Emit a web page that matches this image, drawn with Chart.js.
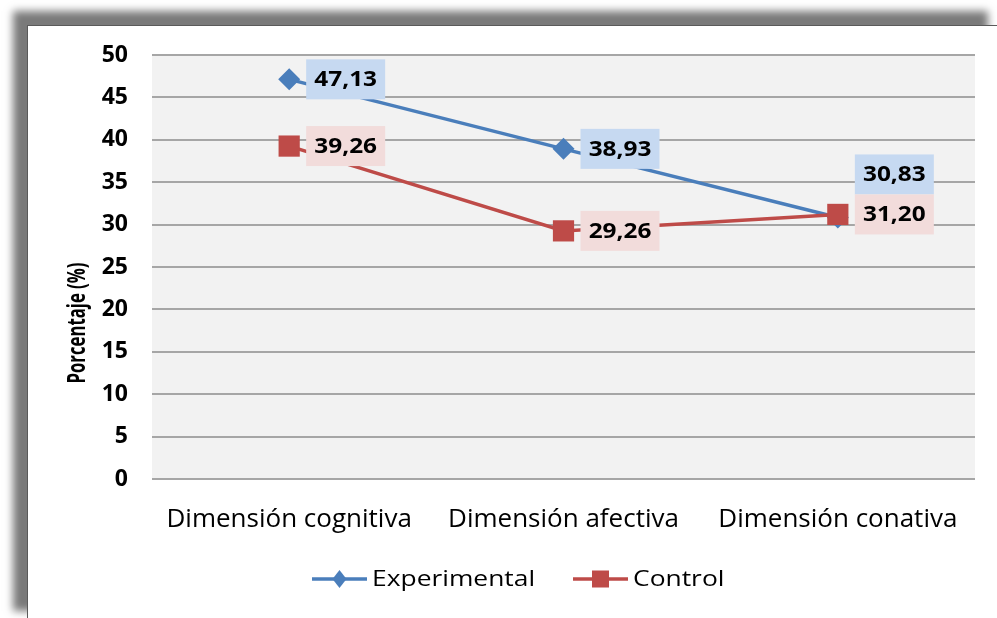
<!DOCTYPE html>
<html>
<head>
<meta charset="utf-8">
<script src="https://cdn.jsdelivr.net/npm/chart.js@4.4.1/dist/chart.umd.min.js"></script>
<style>
    body { margin: 0; background: #fff; width: 997px; height: 618px; overflow: hidden; position: relative; }
    #panel { position: absolute; left: 27px; top: 25px; width: 974px; height: 599px; background: #fff;
             border-left: 1px solid #5a5a5a; border-top: 1px solid #5a5a5a; box-shadow: -14px -14px 8px #7a7a7a; }
    #wrap { position: absolute; left: 0; top: 0; width: 997px; height: 618px; }
</style>
</head>
<body>
<div id="panel"></div>
<div id="wrap"><canvas id="chart" width="997" height="618"></canvas></div>
<script>
// data
var categories = ['Dimensión cognitiva', 'Dimensión afectiva', 'Dimensión conativa'];
var experimental = [47.13, 38.93, 30.83];
var control = [39.26, 29.26, 31.20];
var seriesNames = ['Experimental', 'Control'];
var yMin = 0, yMax = 50, yStep = 5;

var FONT = '"Open Sans", Lato, sans-serif';
var BLUE = '#4a7ebb', RED = '#be4b48';
var LABEL_BG = ['#c6d9f1', '#f2dcdb'];

function fmt(v) { return v.toFixed(2).replace('.', ','); }

// the source picture is stretched sideways, so custom text gets a horizontal scale
function stretchText(ctx, text, x, y, sx) {
    ctx.save();
    ctx.translate(x, y);
    ctx.scale(sx, 1);
    ctx.fillText(text, 0, 0);
    ctx.restore();
}

var decorations = {
    id: 'decorations',
    beforeDraw: function (chart) {
        var a = chart.chartArea, ctx = chart.ctx;
        ctx.save();
        ctx.fillStyle = '#f2f2f2';
        ctx.fillRect(a.left, a.top, a.right - a.left, a.bottom - a.top);
        ctx.restore();
    },
    afterDatasetsDraw: function (chart) {
        var ctx = chart.ctx;
        var boxW = 79, boxH = 40, gap = 17;
        ctx.save();
        ctx.font = 'bold 21px ' + FONT;
        ctx.textAlign = 'center';
        ctx.textBaseline = 'middle';
        for (var i = 0; i < categories.length; i++) {
            var boxes = chart.data.datasets.map(function (ds, d) {
                var pt = chart.getDatasetMeta(d).data[i];
                return { x: pt.x + gap, y: pt.y - boxH / 2, v: ds.data[i], d: d };
            });
            // overlapping labels get stacked, first series on top
            if (Math.abs(boxes[0].y - boxes[1].y) < boxH) {
                boxes[0].y = boxes[1].y - boxH;
            }
            boxes.forEach(function (b) {
                ctx.fillStyle = LABEL_BG[b.d];
                ctx.fillRect(b.x, b.y, boxW, boxH);
                ctx.fillStyle = '#000';
                stretchText(ctx, fmt(b.v), b.x + boxW / 2, b.y + boxH / 2 + 1, 1.16);
            });
        }
        ctx.restore();
    },
    afterDraw: function (chart) {
        var ctx = chart.ctx;
        // y axis title
        ctx.save();
        ctx.translate(78, 323);
        ctx.rotate(-Math.PI / 2);
        ctx.font = 'bold 25px ' + FONT;
        ctx.fillStyle = '#000';
        ctx.textAlign = 'center';
        ctx.textBaseline = 'middle';
        var title = 'Porcentaje (%)';
        stretchText(ctx, title, 0, 0, 121 / ctx.measureText(title).width);
        ctx.restore();

        // legend: line with the marker in its middle
        ctx.save();
        var y = 579;
        var items = [{ x: 312, ds: chart.data.datasets[0] }, { x: 573, ds: chart.data.datasets[1] }];
        ctx.font = '22px ' + FONT;
        ctx.textBaseline = 'middle';
        items.forEach(function (it) {
            ctx.strokeStyle = it.ds.borderColor;
            ctx.lineWidth = 3.5;
            ctx.beginPath();
            ctx.moveTo(it.x, y);
            ctx.lineTo(it.x + 55, y);
            ctx.stroke();
            ctx.fillStyle = it.ds.pointBackgroundColor;
            var cx = it.x + 27.5;
            if (it.ds.pointStyle === 'rectRot') {
                ctx.beginPath();
                ctx.moveTo(cx, y - 9);
                ctx.lineTo(cx + 7, y);
                ctx.lineTo(cx, y + 9);
                ctx.lineTo(cx - 7, y);
                ctx.closePath();
                ctx.fill();
            } else {
                ctx.fillRect(cx - 8.5, y - 8.5, 17, 17);
            }
            ctx.fillStyle = '#000';
            stretchText(ctx, it.ds.label, it.x + 60, y + 1, 1.2);
        });
        ctx.restore();
    }
};

new Chart(document.getElementById('chart').getContext('2d'), {
    type: 'line',
    data: {
        labels: categories,
        datasets: [{
            label: seriesNames[0],
            data: experimental,
            borderColor: BLUE,
            backgroundColor: BLUE,
            pointBackgroundColor: BLUE,
            pointBorderColor: BLUE,
            borderWidth: 3.5,
            pointStyle: 'rectRot',
            pointRadius: 11,
            pointBorderWidth: 0,
            order: 1
        }, {
            label: seriesNames[1],
            data: control,
            borderColor: RED,
            backgroundColor: RED,
            pointBackgroundColor: RED,
            pointBorderColor: RED,
            borderWidth: 3.5,
            pointStyle: 'rect',
            pointRadius: 15,
            pointBorderWidth: 0,
            order: 0
        }]
    },
    options: {
        responsive: false,
        animation: false,
        layout: { padding: { left: 0, right: 22, top: 55, bottom: 0 } },
        plugins: {
            legend: { display: false },
            tooltip: { enabled: false }
        },
        scales: {
            x: {
                offset: true,
                grid: { display: false, drawTicks: false },
                border: { display: false },
                ticks: { color: '#000', font: { family: FONT, size: 26 }, padding: 25 },
                afterFit: function (scale) { scale.height = 618 - 479; }
            },
            y: {
                min: yMin,
                max: yMax,
                grid: { color: '#a6a6a6', lineWidth: 2, drawTicks: false },
                border: { display: false },
                ticks: { stepSize: yStep, color: '#000', font: { family: FONT, size: 23, weight: 'bold' }, padding: 24 },
                afterFit: function (scale) { scale.width = 152; }
            }
        }
    },
    plugins: [decorations]
});
</script>
</body>
</html>
